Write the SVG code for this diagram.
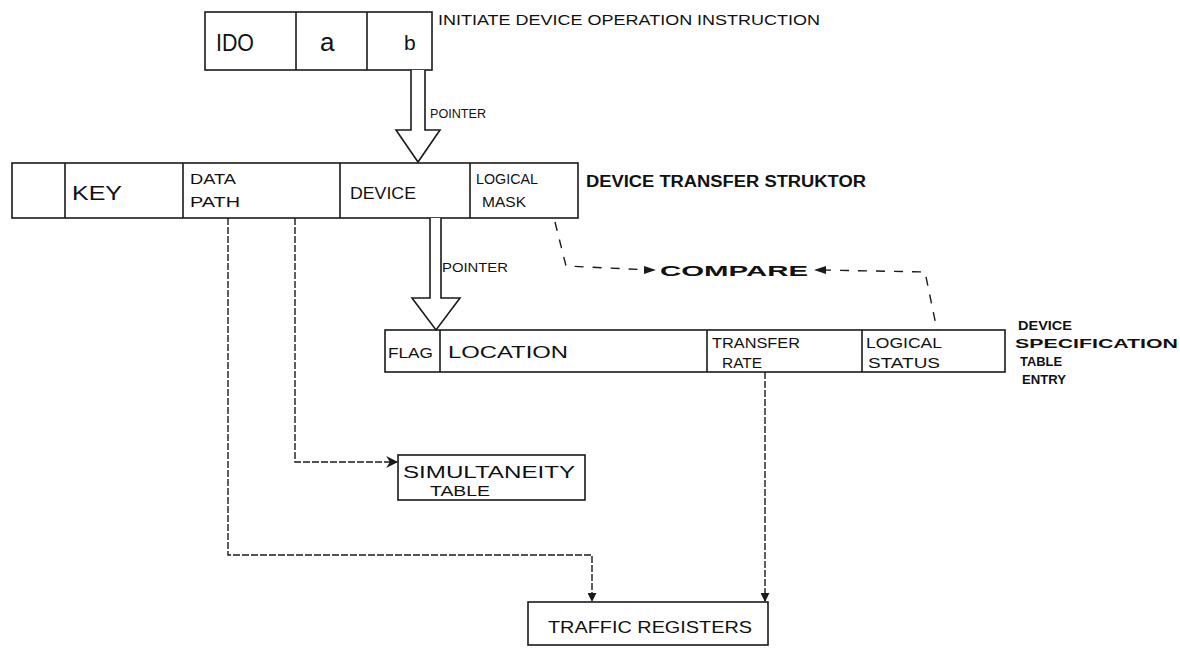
<svg xmlns="http://www.w3.org/2000/svg" width="1180" height="650" viewBox="0 0 1180 650">
<defs>
<style>
.box{fill:none;stroke:#1a1a1a;stroke-width:1.6}
.div{stroke:#1a1a1a;stroke-width:1.6}
.t{font-family:"Liberation Sans",Arial,sans-serif;fill:#111;}
.b{font-weight:bold}
.c{fill:none;stroke:#1a1a1a;stroke-width:1.4;stroke-dasharray:7 2}
.cmp{fill:none;stroke:#1a1a1a;stroke-width:1.4;stroke-dasharray:9 9}
.hollow{fill:#fff;stroke:#1a1a1a;stroke-width:1.6}
</style>
<marker id="ah" viewBox="0 0 10 10" refX="9" refY="5" markerWidth="9" markerHeight="9" orient="auto" markerUnits="userSpaceOnUse">
<path d="M0,0 L10,5 L0,10 z" fill="#1a1a1a"/>
</marker>
<marker id="ahs" viewBox="0 0 10 10" refX="9" refY="5" markerWidth="12" markerHeight="12" orient="auto" markerUnits="userSpaceOnUse">
<path d="M0,0 L10,5 L0,10 L3,5 z" fill="#1a1a1a"/>
</marker>
</defs>
<rect width="1180" height="650" fill="#fff"/>

<g id="ido">
<rect class="box" x="205" y="12" width="227" height="58"/>
<line class="div" x1="296" y1="12" x2="296" y2="70"/>
<line class="div" x1="367" y1="12" x2="367" y2="70"/>
<text class="t" x="216" y="51" font-size="24" textLength="38" lengthAdjust="spacingAndGlyphs">IDO</text>
<text class="t" x="320" y="51" font-size="26">a</text>
<text class="t" x="404" y="50" font-size="21">b</text>
<text class="t" x="438" y="25" font-size="14" textLength="382" lengthAdjust="spacingAndGlyphs">INITIATE DEVICE OPERATION INSTRUCTION</text>
</g>

<g id="dts">
<rect class="box" x="12" y="163" width="566" height="55"/>
<line class="div" x1="65" y1="163" x2="65" y2="218"/>
<line class="div" x1="183" y1="163" x2="183" y2="218"/>
<line class="div" x1="340" y1="163" x2="340" y2="218"/>
<line class="div" x1="470" y1="163" x2="470" y2="218"/>
<text class="t" x="72" y="200" font-size="20" textLength="50" lengthAdjust="spacingAndGlyphs">KEY</text>
<text class="t" x="190" y="184" font-size="15" textLength="46" lengthAdjust="spacingAndGlyphs">DATA</text>
<text class="t" x="190" y="207" font-size="15" textLength="50" lengthAdjust="spacingAndGlyphs">PATH</text>
<text class="t" x="350" y="199" font-size="16" textLength="66" lengthAdjust="spacingAndGlyphs">DEVICE</text>
<text class="t" x="476" y="184" font-size="14" textLength="62" lengthAdjust="spacingAndGlyphs">LOGICAL</text>
<text class="t" x="482" y="207" font-size="15" textLength="44" lengthAdjust="spacingAndGlyphs">MASK</text>
<text class="t b" x="586" y="187" font-size="16" textLength="280" lengthAdjust="spacingAndGlyphs">DEVICE TRANSFER STRUKTOR</text>
</g>

<g id="dse">
<rect class="box" x="385" y="330" width="620" height="42"/>
<line class="div" x1="440" y1="330" x2="440" y2="372"/>
<line class="div" x1="707" y1="330" x2="707" y2="372"/>
<line class="div" x1="862" y1="330" x2="862" y2="372"/>
<text class="t" x="388" y="358" font-size="15" textLength="45" lengthAdjust="spacingAndGlyphs">FLAG</text>
<text class="t" x="448" y="358" font-size="17" textLength="120" lengthAdjust="spacingAndGlyphs">LOCATION</text>
<text class="t" x="712" y="348" font-size="14" textLength="88" lengthAdjust="spacingAndGlyphs">TRANSFER</text>
<text class="t" x="722" y="368" font-size="14" textLength="40" lengthAdjust="spacingAndGlyphs">RATE</text>
<text class="t" x="866" y="348" font-size="14" textLength="76" lengthAdjust="spacingAndGlyphs">LOGICAL</text>
<text class="t" x="868" y="368" font-size="14" textLength="72" lengthAdjust="spacingAndGlyphs">STATUS</text>
<text class="t b" x="1018" y="330" font-size="12" textLength="54" lengthAdjust="spacingAndGlyphs">DEVICE</text>
<text class="t b" x="1015" y="348" font-size="12" textLength="163" lengthAdjust="spacingAndGlyphs">SPECIFICATION</text>
<text class="t b" x="1020" y="366" font-size="12" textLength="42" lengthAdjust="spacingAndGlyphs">TABLE</text>
<text class="t b" x="1022" y="384" font-size="12" textLength="44" lengthAdjust="spacingAndGlyphs">ENTRY</text>
</g>

<g id="simul">
<rect class="box" x="398" y="455" width="187" height="45"/>
<text class="t" x="403" y="478" font-size="16" textLength="172" lengthAdjust="spacingAndGlyphs">SIMULTANEITY</text>
<text class="t" x="430" y="496" font-size="15" textLength="60" lengthAdjust="spacingAndGlyphs">TABLE</text>
</g>

<g id="traffic">
<rect class="box" x="528" y="602" width="240" height="43"/>
<text class="t" x="548" y="633" font-size="17" textLength="204" lengthAdjust="spacingAndGlyphs">TRAFFIC REGISTERS</text>
</g>

<g id="connectors">
<path class="hollow" d="M411,70 L411,130 L396,130 L418,162 L440,130 L425,130 L425,70"/>
<text class="t" x="430" y="118" font-size="12" textLength="56" lengthAdjust="spacingAndGlyphs">POINTER</text>
<path class="hollow" d="M430,218 L430,298 L412,298 L436,330 L460,298 L441,298 L441,218"/>
<text class="t" x="442" y="272" font-size="13" textLength="66" lengthAdjust="spacingAndGlyphs">POINTER</text>
<path class="cmp" d="M555,222 L566,266 L650,270"/>
<path class="cmp" d="M822,270 L925,272 L937,330"/>
<path d="M644,266 L656,270 L644,274 z" fill="#1a1a1a"/>
<path d="M826,266 L814,270 L826,274 z" fill="#1a1a1a"/>
<text class="t b" x="660" y="276" font-size="15" textLength="148" lengthAdjust="spacingAndGlyphs">COMPARE</text>
<path class="c" d="M228,218 L228,555 L592,555 L592,601" marker-end="url(#ah)"/>
<path class="c" d="M295,218 L295,462 L397,462" marker-end="url(#ahs)"/>
<path class="c" d="M765,372 L765,601" marker-end="url(#ah)"/>
</g>
</svg>
